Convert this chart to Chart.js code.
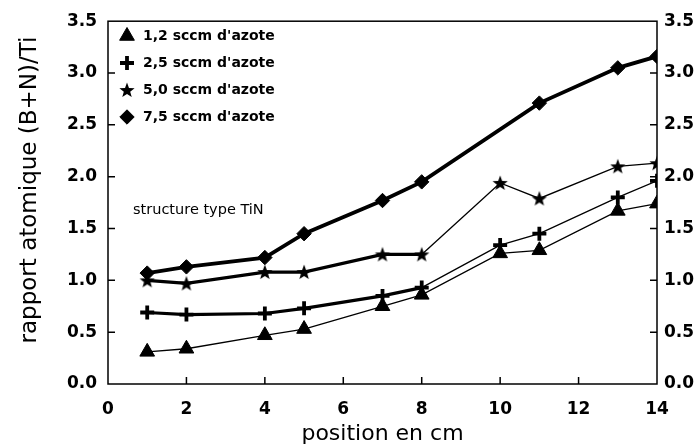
<!DOCTYPE html>
<html>
<head>
<meta charset="utf-8">
<script src="https://cdn.jsdelivr.net/npm/chart.js@4/dist/chart.umd.min.js"></script>
<style>
html,body{margin:0;padding:0;background:#fff;}
#wrap{width:700px;height:447px;}
</style>
</head>
<body>
<div id="wrap"><canvas id="c" width="700" height="447"></canvas></div>
<script>
// ---- data ----
const positions = [1, 2, 4, 5, 7, 8, 10, 11, 13, 14];
const seriesNames = ["1,2 sccm d'azote", "2,5 sccm d'azote", "5,0 sccm d'azote", "7,5 sccm d'azote"];
const azote12 = [0.31, 0.34, 0.47, 0.53, 0.75, 0.86, 1.26, 1.29, 1.67, 1.74];
const azote25 = [0.69, 0.67, 0.68, 0.73, 0.85, 0.93, 1.34, 1.45, 1.80, 1.96];
const azote50 = [1.00, 0.97, 1.08, 1.08, 1.25, 1.25, 1.94, 1.79, 2.10, 2.13];
const azote75 = [1.07, 1.13, 1.22, 1.45, 1.77, 1.95, null, 2.71, 3.05, 3.16];
const xMin = 0, xMax = 14, xStep = 2;
const yMin = 0, yMax = 3.5, yStep = 0.5;
const annotationText = 'structure type TiN';
const xTitle = 'position en cm';
const yTitle = 'rapport atomique (B+N)/Ti';

function toPoints(vals) { return positions.map((x, i) => ({ x: x, y: vals[i] })); }

function makeStar(r) {
  const s = Math.ceil(r * 2) + 2;
  const c = document.createElement('canvas');
  c.width = s; c.height = s;
  const g = c.getContext('2d');
  g.beginPath();
  for (let i = 0; i < 10; i++) {
    const a = -Math.PI / 2 + i * Math.PI / 5;
    const rr = (i % 2) ? r * 0.42 : r;
    g.lineTo(s / 2 + rr * Math.cos(a), s / 2 + 0.6 + rr * Math.sin(a));
  }
  g.closePath();
  g.fillStyle = '#000';
  g.fill();
  return c;
}
const starImg = makeStar(8);

const thickThin = (ctx) => (ctx.p0.parsed.x >= 8 ? 1.3 : 3.2);

const datasets = [
  { label: seriesNames[0], data: toPoints(azote12), borderColor: '#000', backgroundColor: '#000',
    borderWidth: 1.3, pointStyle: 'triangle', pointRadius: 8.5, pointBorderWidth: 1,
    pointBackgroundColor: '#000', pointBorderColor: '#000' },
  { label: seriesNames[1], data: toPoints(azote25), borderColor: '#000', backgroundColor: '#000',
    borderWidth: 3.2, segment: { borderWidth: thickThin }, pointStyle: 'cross', pointRadius: 7, pointBorderWidth: 3.8,
    pointBackgroundColor: '#000', pointBorderColor: '#000' },
  { label: seriesNames[2], data: toPoints(azote50), borderColor: '#000', backgroundColor: '#000',
    borderWidth: 3.2, segment: { borderWidth: thickThin }, pointStyle: starImg, pointRadius: 8, pointBorderWidth: 0,
    pointBackgroundColor: '#000', pointBorderColor: '#000' },
  { label: seriesNames[3], data: toPoints(azote75), borderColor: '#000', backgroundColor: '#000',
    borderWidth: 3.8, spanGaps: true, pointStyle: 'rectRot', pointRadius: 7.2, pointBorderWidth: 1,
    pointBackgroundColor: '#000', pointBorderColor: '#000' }
];

const tickFont = { family: 'DejaVu Sans', size: 17, weight: 'bold' };

const decor = {
  id: 'decor',
  beforeDatasetsDraw(chart) {
    const ctx = chart.ctx;
    const { left, right, top, bottom } = chart.chartArea;
    const xs = chart.scales.x, ys = chart.scales.y;
    ctx.save();
    ctx.strokeStyle = '#000';
    ctx.lineWidth = 1.5;
    ctx.strokeRect(left, top, right - left, bottom - top);
    ctx.beginPath();
    xs.ticks.forEach(t => {
      if (t.value > xs.min && t.value < xs.max) {
        const px = xs.getPixelForValue(t.value);
        ctx.moveTo(px, bottom); ctx.lineTo(px, bottom - 7);
      }
    });
    ys.ticks.forEach(t => {
      if (t.value > ys.min && t.value < ys.max) {
        const py = ys.getPixelForValue(t.value);
        ctx.moveTo(left, py); ctx.lineTo(left + 7, py);
        ctx.moveTo(right, py); ctx.lineTo(right - 7, py);
      }
    });
    ctx.stroke();
    ctx.restore();
  },
  afterDraw(chart) {
    const ctx = chart.ctx;
    ctx.save();
    // legend
    chart.data.datasets.forEach((ds, i) => {
      const yy = 36 + i * 27;
      ctx.fillStyle = '#000';
      ctx.strokeStyle = '#000';
      ctx.lineWidth = ds.pointBorderWidth;
      Chart.helpers.drawPoint(ctx, { pointStyle: ds.pointStyle, radius: ds.pointRadius, rotation: 0, borderWidth: ds.pointBorderWidth }, 127, yy);
      ctx.font = 'bold 14px "DejaVu Sans"';
      ctx.textAlign = 'left';
      ctx.textBaseline = 'middle';
      ctx.fillText(ds.label, 143, yy);
    });
    // annotation
    ctx.font = '14.5px "DejaVu Sans"';
    ctx.textAlign = 'left';
    ctx.textBaseline = 'middle';
    ctx.fillStyle = '#000';
    ctx.fillText(annotationText, 133, 210);
    // y title
    ctx.translate(30, 190);
    ctx.rotate(-Math.PI / 2);
    ctx.font = '23px "DejaVu Sans"';
    ctx.textAlign = 'center';
    ctx.fillText(yTitle, 0, 0);
    ctx.restore();
  }
};

new Chart(document.getElementById('c'), {
  type: 'line',
  data: { datasets: datasets },
  options: {
    responsive: false,
    animation: false,
    devicePixelRatio: 1,
    layout: { padding: { top: 19, left: 0, right: 0, bottom: 0 } },
    plugins: { legend: { display: false }, tooltip: { enabled: false } },
    scales: {
      x: {
        type: 'linear', min: xMin, max: xMax,
        grid: { display: false, drawTicks: false }, border: { display: false },
        ticks: { stepSize: xStep, color: '#000', font: tickFont, padding: 15, maxRotation: 0 },
        title: { display: true, text: xTitle, color: '#000', font: { family: 'DejaVu Sans', size: 22 }, padding: 0 },
        afterFit(s) { s.height = 63; }
      },
      y: {
        position: 'left', min: yMin, max: yMax,
        grid: { display: false, drawTicks: false }, border: { display: false },
        ticks: { stepSize: yStep, color: '#000', font: tickFont, padding: 11, callback: v => Number(v).toFixed(1) },
        afterFit(s) { s.width = 108; }
      },
      y2: {
        position: 'right', min: yMin, max: yMax,
        grid: { display: false, drawTicks: false }, border: { display: false },
        ticks: { stepSize: yStep, color: '#000', font: tickFont, padding: 7, callback: v => Number(v).toFixed(1) },
        afterFit(s) { s.width = 43; }
      }
    }
  },
  plugins: [decor]
});
</script>
</body>
</html>
